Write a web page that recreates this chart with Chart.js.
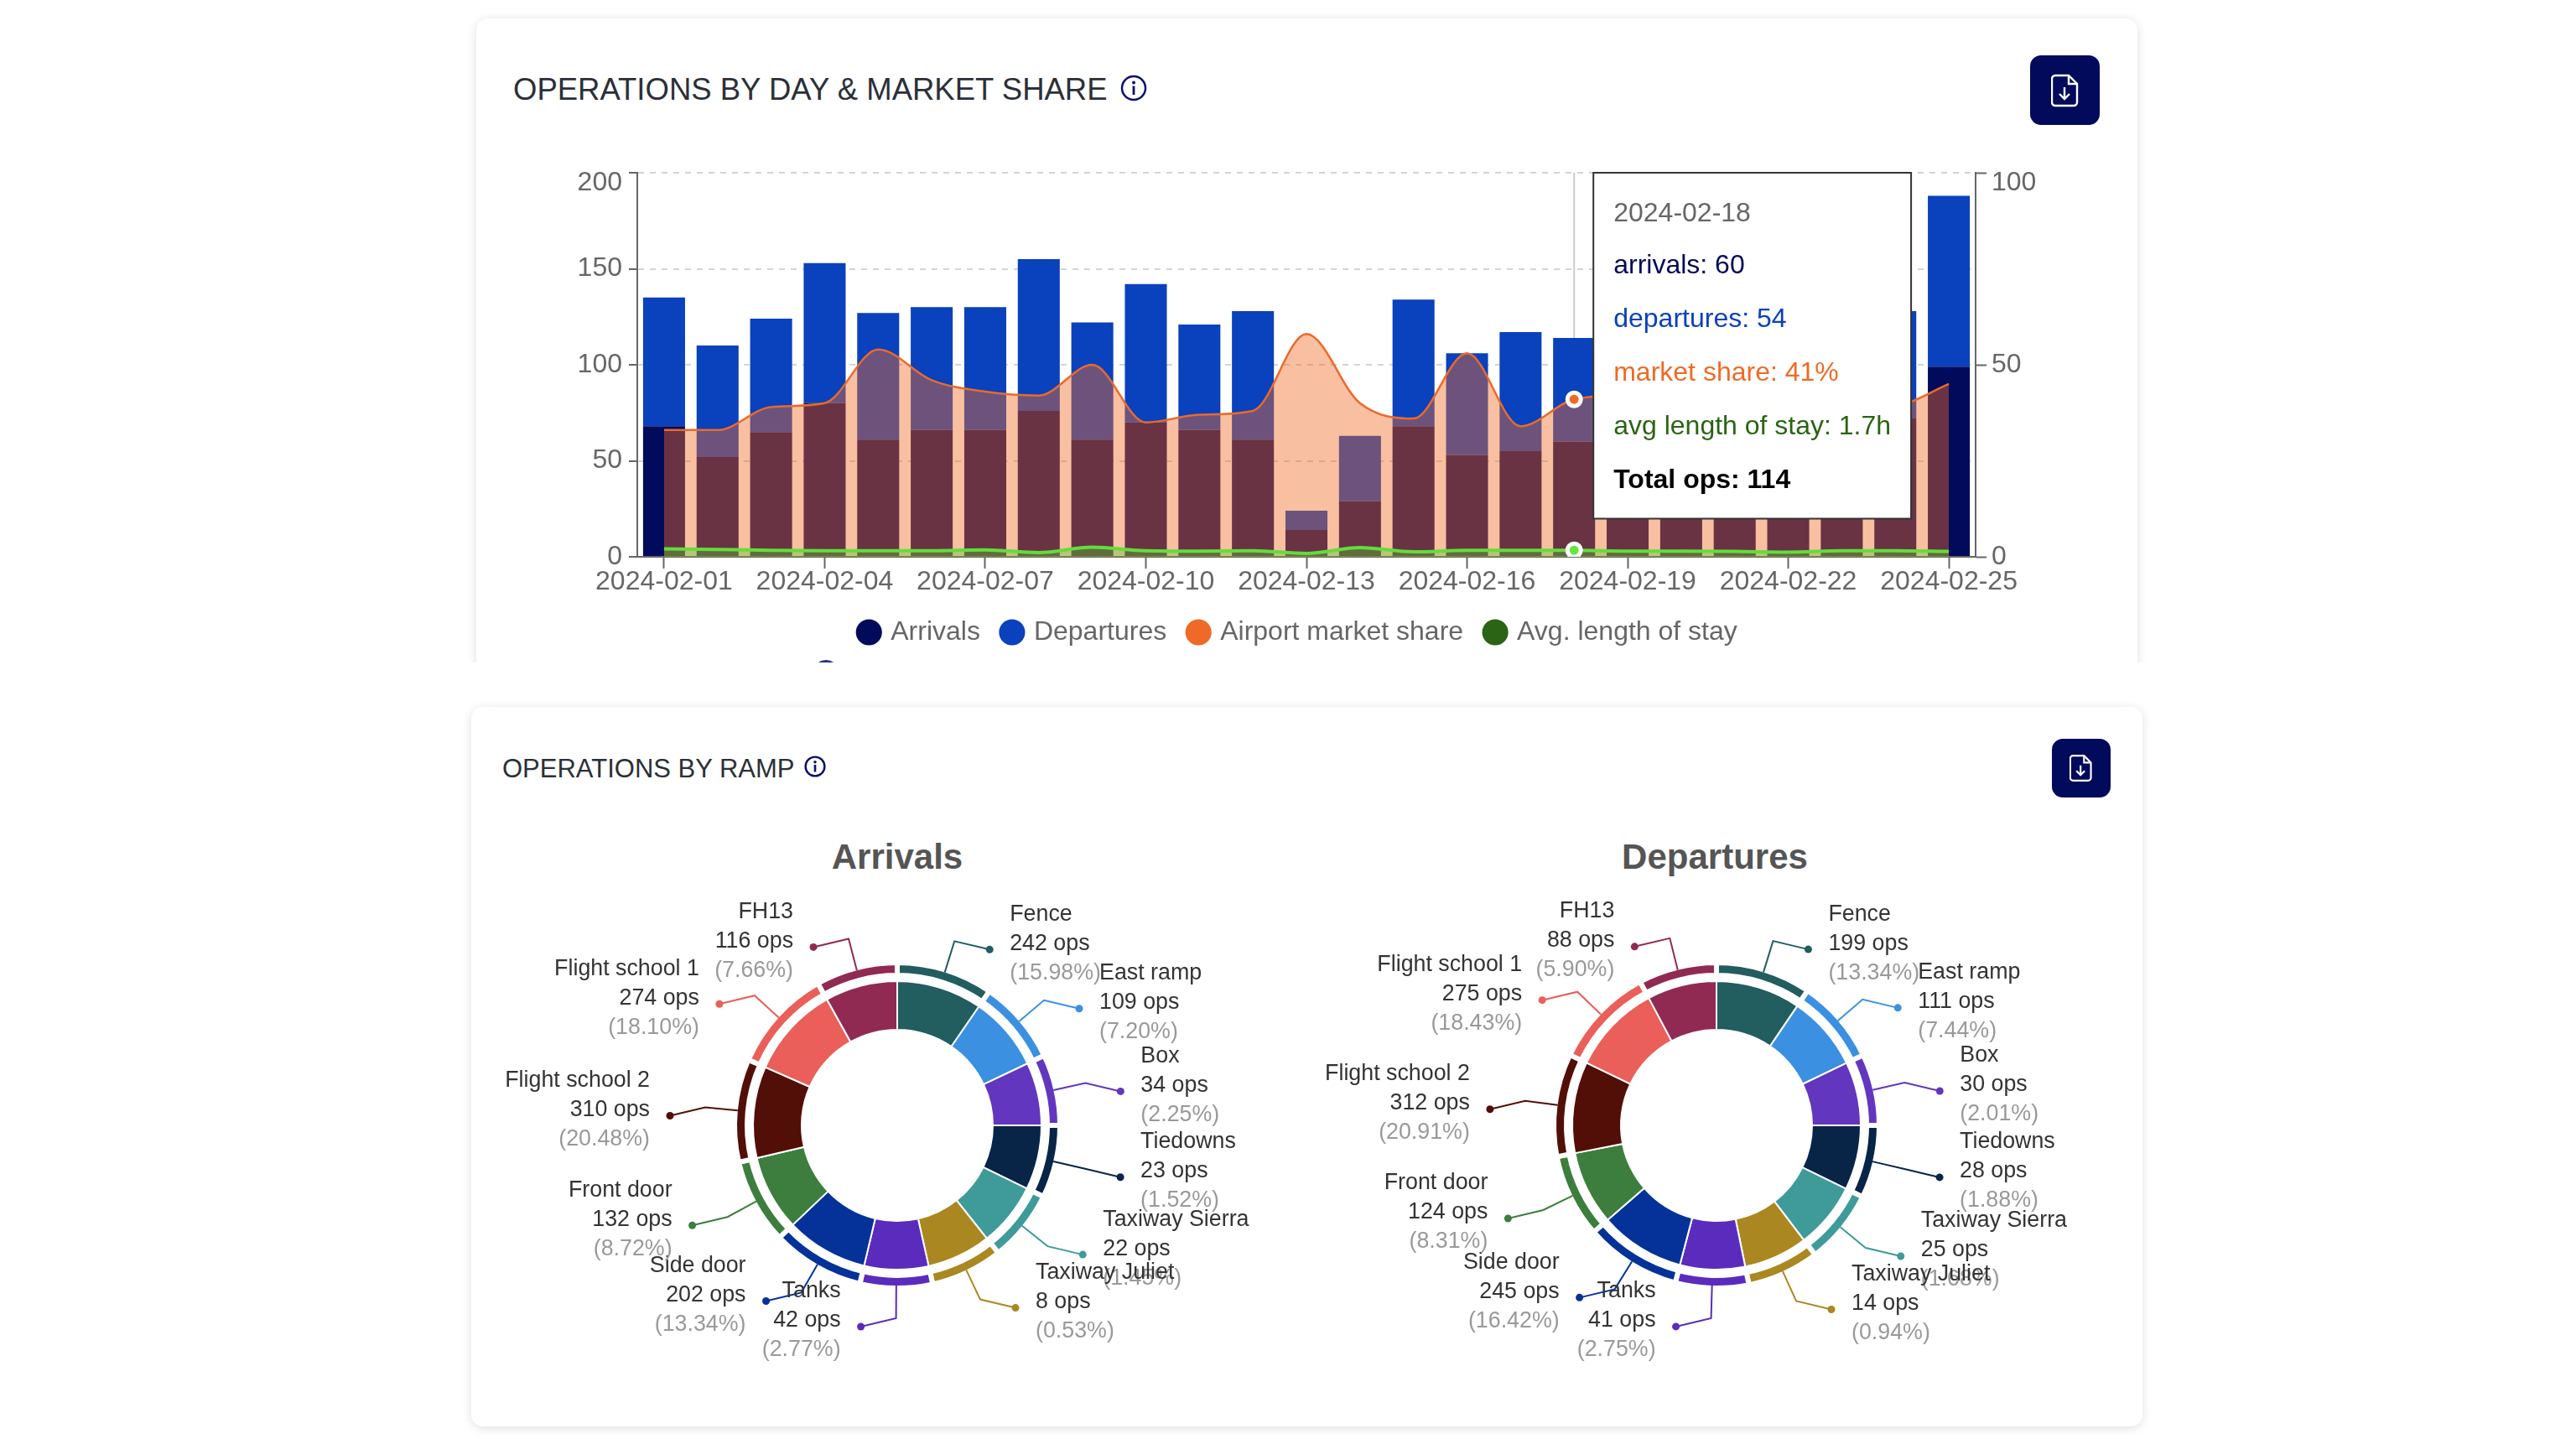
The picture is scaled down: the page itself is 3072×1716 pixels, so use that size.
<!DOCTYPE html>
<html>
<head>
<meta charset="utf-8">
<title>Operations</title>
<script src="https://cdn.jsdelivr.net/npm/chart.js@4/dist/chart.umd.min.js"></script>
<style>
  html, body { margin: 0; padding: 0; background: #fff; }
  body { position: relative; width: 3072px; height: 1716px; overflow: hidden; font-family: "Liberation Sans", sans-serif; }
  .clip { position: absolute; left: 0; top: 0; width: 3072px; height: 790px; overflow: hidden; }
  .card { position: absolute; background: #fff; border-radius: 14px; box-shadow: 0 2px 12px rgba(0,0,0,0.13); }
  #card1 { left: 568px; top: 22px; width: 1981px; height: 820px; }
  #card2 { left: 562px; top: 843px; width: 1993px; height: 858px; }
  .head { position: absolute; color: #2b3038; white-space: nowrap; line-height: 1; }
  .info { position: absolute; }
  .btn { position: absolute; background: #020a5c; border-radius: 13px; display: flex; align-items: center; justify-content: center; }
  .pie-title { position: absolute; width: 600px; text-align: center; font-weight: bold; font-size: 42px; color: #555; line-height: 1; }
  canvas { position: absolute; }
  #nextRow { position: absolute; left: 969px; top: 787px; width: 32px; height: 32px; border-radius: 50%; background: #2b2f8c; }
</style>
</head>
<body>
<div class="clip">
  <div class="card" id="card1"></div>
  <div id="nextRow"></div>
  <div class="head" style="left:612px;top:89px;font-size:36.5px;">OPERATIONS BY DAY &amp; MARKET SHARE</div>
  <svg class="info" style="left:1336px;top:89px;" width="32" height="32" viewBox="0 0 32 32"><circle cx="16" cy="16" r="14" fill="none" stroke="#0a1070" stroke-width="2.5"/><circle cx="16" cy="9.5" r="2" fill="#0a1070"/><rect x="14.6" y="13.5" width="2.8" height="10.5" fill="#0a1070"/></svg>
  <div class="btn" style="left:2421px;top:66px;width:83px;height:83px;">
    <svg width="34" height="40" viewBox="0 0 34 40"><path d="M5 2h16l10 10v22a4 4 0 0 1-4 4H5a4 4 0 0 1-4-4V6a4 4 0 0 1 4-4z" fill="none" stroke="#fff" stroke-width="2.4"/><path d="M21 2v10h10" fill="none" stroke="#fff" stroke-width="2.4"/><path d="M16 16v14M10 24l6 6 6-6" fill="none" stroke="#fff" stroke-width="2.4"/></svg>
  </div>
  <canvas id="opsChart" width="1798" height="606" style="left:650px;top:174px;"></canvas>
</div>

<div class="card" id="card2"></div>
<div class="head" style="left:599px;top:901px;font-size:31px;">OPERATIONS BY RAMP</div>
<svg class="info" style="left:959px;top:901px;" width="26" height="26" viewBox="0 0 32 32"><circle cx="16" cy="16" r="14" fill="none" stroke="#0a1070" stroke-width="3"/><circle cx="16" cy="9.5" r="2.2" fill="#0a1070"/><rect x="14.4" y="13.5" width="3.2" height="10.5" fill="#0a1070"/></svg>
<div class="btn" style="left:2447px;top:881px;width:70px;height:70px;">
  <svg width="28" height="34" viewBox="0 0 34 40"><path d="M5 2h16l10 10v22a4 4 0 0 1-4 4H5a4 4 0 0 1-4-4V6a4 4 0 0 1 4-4z" fill="none" stroke="#fff" stroke-width="2.6"/><path d="M21 2v10h10" fill="none" stroke="#fff" stroke-width="2.6"/><path d="M16 16v14M10 24l6 6 6-6" fill="none" stroke="#fff" stroke-width="2.6"/></svg>
</div>
<div class="pie-title" style="left:770px;top:1001px;">Arrivals</div>
<div class="pie-title" style="left:1745px;top:1001px;">Departures</div>
<canvas id="arrivalsPie" width="960" height="600" style="left:590px;top:1042px;"></canvas>
<canvas id="departuresPie" width="960" height="600" style="left:1567px;top:1042px;"></canvas>

<script>
// --- Daily operations ---
const days = [
  "2024-02-01", "2024-02-02", "2024-02-03", "2024-02-04", "2024-02-05",
  "2024-02-06", "2024-02-07", "2024-02-08", "2024-02-09", "2024-02-10",
  "2024-02-11", "2024-02-12", "2024-02-13", "2024-02-14", "2024-02-15",
  "2024-02-16", "2024-02-17", "2024-02-18", "2024-02-19", "2024-02-20",
  "2024-02-21", "2024-02-22", "2024-02-23", "2024-02-24", "2024-02-25"
];
const arrivals = [68, 52, 65, 80, 61, 66, 66, 76, 61, 70, 66, 61, 14, 29, 68, 53, 55, 60, 62, 60, 64, 66, 62, 72, 99];
const departures = [67, 58, 59, 73, 66, 64, 64, 79, 61, 72, 55, 67, 10, 34, 66, 53, 62, 54, 56, 58, 54, 52, 58, 56, 89];
const marketShare = [33, 33, 39, 40, 54, 46, 43, 42, 50, 35, 37, 38, 58, 40, 36, 53, 34, 41, 42, 40, 38, 37, 38, 39, 45];
const avgStay = [2.1, 1.9, 1.7, 1.6, 1.6, 1.6, 1.8, 1.1, 2.5, 1.6, 1.5, 1.6, 0.9, 2.4, 1.3, 1.7, 1.7, 1.7, 1.5, 1.5, 1.4, 1.2, 1.6, 1.6, 1.4];
const activeDay = 17;

// --- Ramps ---
const ramps = ["Fence", "East ramp", "Box", "Tiedowns", "Taxiway Sierra", "Taxiway Juliet", "Tanks", "Side door", "Front door", "Flight school 2", "Flight school 1", "FH13"];
const rampColors = ["#225d60", "#3b90e2", "#6236bf", "#082548", "#3f9a9a", "#ab8722", "#5b2bbd", "#053299", "#3d7e3e", "#520f08", "#ea5f59", "#912a52"];
const arrivalsOps = [242, 109, 34, 23, 22, 8, 42, 202, 132, 310, 274, 116];
const arrivalsPct = ["15.98", "7.20", "2.25", "1.52", "1.45", "0.53", "2.77", "13.34", "8.72", "20.48", "18.10", "7.66"];
const departuresOps = [199, 111, 30, 28, 25, 14, 41, 245, 124, 312, 275, 88];
const departuresPct = ["13.34", "7.44", "2.01", "1.88", "1.68", "0.94", "2.75", "16.42", "8.31", "20.91", "18.43", "5.90"];
// the slices in the picture are not proportional to the ops, so the sweep (degrees) is read off separately
const arrivalsSweep = [34.5, 30.1, 25.4, 26, 25.6, 25.8, 25.9, 33.1, 30.5, 36.9, 37, 29.2];
const departuresSweep = [34.1, 30.3, 25.6, 26.1, 26.6, 25.8, 26.2, 34.3, 29.9, 36.8, 36.3, 28];

Chart.defaults.font.family = '"Liberation Sans", sans-serif';
Chart.defaults.animation = false;

const AXIS = "#666";
const GREY = "#666";

// --- Crosshair on the active day ---
const crosshair = {
  id: "crosshair",
  beforeDatasetsDraw(chart) {
    const { ctx, chartArea, scales } = chart;
    const x = scales.x.getPixelForValue(activeDay);
    ctx.save();
    ctx.strokeStyle = "#ccc";
    ctx.lineWidth = 2;
    ctx.beginPath();
    ctx.moveTo(x, chartArea.top);
    ctx.lineTo(x, chartArea.bottom);
    ctx.stroke();
    ctx.restore();
  }
};

Chart.Tooltip.positioners.besideDay = function () {
  const chart = this.chart;
  return { x: chart.scales.x.getPixelForValue(activeDay) + 23, y: chart.chartArea.top };
};

const tooltipNames = ["arrivals", "departures", "market share", "avg length of stay"];
const tooltipUnits = ["", "", "%", "h"];
const tooltipColors = ["#020a5c", "#0a41bc", "#ee6a26", "#2a6414"];

const opsChart = new Chart(document.getElementById("opsChart"), {
  data: {
    labels: days,
    datasets: [
      { type: "bar", label: "Arrivals", data: arrivals, backgroundColor: "#020a5c", hoverBackgroundColor: "#020a5c", stack: "ops", yAxisID: "y", order: 3, barPercentage: 0.98, categoryPercentage: 0.8 },
      { type: "bar", label: "Departures", data: departures, backgroundColor: "#0a41bc", hoverBackgroundColor: "#0a41bc", stack: "ops", yAxisID: "y", order: 3, barPercentage: 0.98, categoryPercentage: 0.8 },
      { type: "line", label: "Airport market share", data: marketShare, yAxisID: "y2", order: 2, borderColor: "#ea6a2a", borderWidth: 2.5, backgroundColor: "#ee6a26",
        fill: { target: "origin", above: "rgba(240,106,38,0.43)" }, cubicInterpolationMode: "monotone", pointRadius: 0,
        pointHoverRadius: 8, pointHoverBorderWidth: 5, pointHoverBorderColor: "#fff", pointHoverBackgroundColor: "#ee6a26" },
      { type: "line", label: "Avg. length of stay", data: avgStay, yAxisID: "y2", order: 1, borderColor: "#62dd3c", borderWidth: 4, backgroundColor: "#2a6414",
        fill: { target: "origin", above: "rgba(85,207,46,0.37)" }, cubicInterpolationMode: "monotone", pointRadius: 0,
        pointHoverRadius: 8, pointHoverBorderWidth: 5, pointHoverBorderColor: "#fff", pointHoverBackgroundColor: "#62e83c" }
    ]
  },
  options: {
    responsive: false,
    events: [],
    layout: { padding: { top: 15.5 } },
    scales: {
      x: {
        stacked: true,
        afterBuildTicks: axis => { axis.ticks = axis.ticks.filter((t, i) => i % 3 === 0); },
        afterFit: axis => { axis.height = 46; },
        grid: { offset: false, drawOnChartArea: false, tickLength: 14, tickColor: AXIS, tickWidth: 2 },
        border: { color: AXIS, width: 2 },
        ticks: { autoSkip: false, maxRotation: 0, color: GREY, font: { size: 32 }, padding: -3 }
      },
      y: {
        stacked: true,
        min: 0, max: 200,
        afterFit: axis => { axis.width = 110; },
        grid: { color: "#d4d4d4", lineWidth: 2, tickColor: AXIS, tickLength: 10 },
        border: { color: AXIS, width: 2, dash: [7, 7] },
        ticks: { stepSize: 50, color: GREY, font: { size: 32, lineHeight: 0.75 }, padding: 8, callback: v => (v === 200 ? ["", "200"] : v) }
      },
      y2: {
        position: "right",
        min: 0, max: 100,
        afterFit: axis => { axis.width = 92; },
        grid: { drawOnChartArea: false, tickColor: AXIS, tickLength: 13, tickWidth: 2 },
        border: { color: AXIS, width: 2 },
        ticks: { stepSize: 50, color: GREY, font: { size: 32, lineHeight: 0.75 }, padding: 6, callback: v => (v === 100 ? ["", "100"] : v) }
      }
    },
    plugins: {
      legend: {
        position: "bottom",
        labels: {
          color: GREY,
          font: { size: 32 },
          usePointStyle: true,
          pointStyle: "circle",
          boxWidth: 20,
          boxHeight: 22,
          padding: 28,
          sort: (a, b) => a.datasetIndex - b.datasetIndex,
          generateLabels: chart => Chart.defaults.plugins.legend.labels.generateLabels(chart).map(item => ({ ...item, strokeStyle: item.fillStyle, lineWidth: 0 }))
        }
      },
      tooltip: {
        enabled: true,
        animation: false,
        position: "besideDay",
        mode: "index",
        xAlign: "left",
        yAlign: "top",
        caretSize: 0,
        caretPadding: 0,
        cornerRadius: 0,
        displayColors: false,
        backgroundColor: "#fff",
        borderColor: "#333",
        borderWidth: 2,
        padding: { top: 30, bottom: 26, left: 24, right: 24 },
        titleColor: GREY,
        titleFont: { size: 32, weight: "normal" },
        titleMarginBottom: 23.6,
        bodyFont: { size: 32 },
        bodySpacing: 25.6,
        footerFont: { size: 32, weight: "bold" },
        footerColor: "#000",
        footerMarginTop: 25.6,
        callbacks: {
          label: item => tooltipNames[item.datasetIndex] + ": " + item.raw + tooltipUnits[item.datasetIndex],
          labelTextColor: item => tooltipColors[item.datasetIndex],
          footer: items => "Total ops: " + (arrivals[items[0].dataIndex] + departures[items[0].dataIndex])
        },
        itemSort: (a, b) => a.datasetIndex - b.datasetIndex
      }
    }
  },
  plugins: [crosshair]
});

const activeItems = [0, 1, 2, 3].map(i => ({ datasetIndex: i, index: activeDay }));
opsChart.setActiveElements(activeItems);
opsChart.tooltip.setActiveElements(activeItems, { x: 0, y: 0 });
opsChart.update();

// --- Leader lines and labels around a ramp ring ---
const rampLabels = {
  id: "rampLabels",
  afterDatasetsDraw(chart, args, opts) {
    const { ctx } = chart;
    const ring = chart.getDatasetMeta(0).data;
    const spots = ring.map((arc, i) => {
      const mid = (arc.startAngle + arc.endAngle) / 2;
      const right = i < 6;
      const sign = right ? 1 : -1;
      const elbowX = arc.x + Math.cos(mid) * 230;
      const elbowY = arc.y + Math.sin(mid) * 230;
      return {
        i, right,
        startX: arc.x + Math.cos(mid) * 191,
        startY: arc.y + Math.sin(mid) * 191,
        elbowX, elbowY,
        dotX: elbowX + sign * 42,
        dotY: elbowY + 10
      };
    });
    ctx.save();
    spots.forEach(s => {
      ctx.strokeStyle = rampColors[s.i];
      ctx.fillStyle = rampColors[s.i];
      ctx.lineWidth = 2;
      ctx.beginPath();
      ctx.moveTo(s.startX, s.startY);
      ctx.lineTo(s.elbowX, s.elbowY);
      ctx.lineTo(s.dotX, s.dotY);
      ctx.stroke();
      ctx.beginPath();
      ctx.arc(s.dotX, s.dotY, 4.5, 0, Math.PI * 2);
      ctx.fill();
    });
    ctx.font = '26.8px "Liberation Sans", sans-serif';
    ctx.textBaseline = "middle";
    spots.forEach(s => {
      ctx.textAlign = s.right ? "left" : "right";
      const x = s.dotX + (s.right ? 24 : -24);
      ctx.fillStyle = "#333";
      ctx.fillText(ramps[s.i], x, s.dotY - 42);
      ctx.fillText(opts.ops[s.i] + " ops", x, s.dotY - 7);
      ctx.fillStyle = "#999";
      ctx.fillText("(" + opts.pct[s.i] + "%)", x, s.dotY + 28);
    });
    ctx.restore();
  }
};

function rampChart(id, sweep, ops, pct) {
  return new Chart(document.getElementById(id), {
    type: "doughnut",
    data: {
      labels: ramps,
      datasets: [
        { data: sweep, backgroundColor: rampColors, borderColor: "#fff", borderWidth: 6, weight: 15 },
        { data: sweep, backgroundColor: "rgba(0,0,0,0)", borderWidth: 0, weight: 7 },
        { data: sweep, backgroundColor: rampColors, borderColor: "#fff", borderWidth: 2, weight: 58 }
      ]
    },
    options: {
      responsive: false,
      events: [],
      radius: 194,
      cutout: "58.76%",
      plugins: { legend: { display: false }, tooltip: { enabled: false }, rampLabels: { ops, pct } }
    },
    plugins: [rampLabels]
  });
}

rampChart("arrivalsPie", arrivalsSweep, arrivalsOps, arrivalsPct);
rampChart("departuresPie", departuresSweep, departuresOps, departuresPct);
</script>
</body>
</html>
